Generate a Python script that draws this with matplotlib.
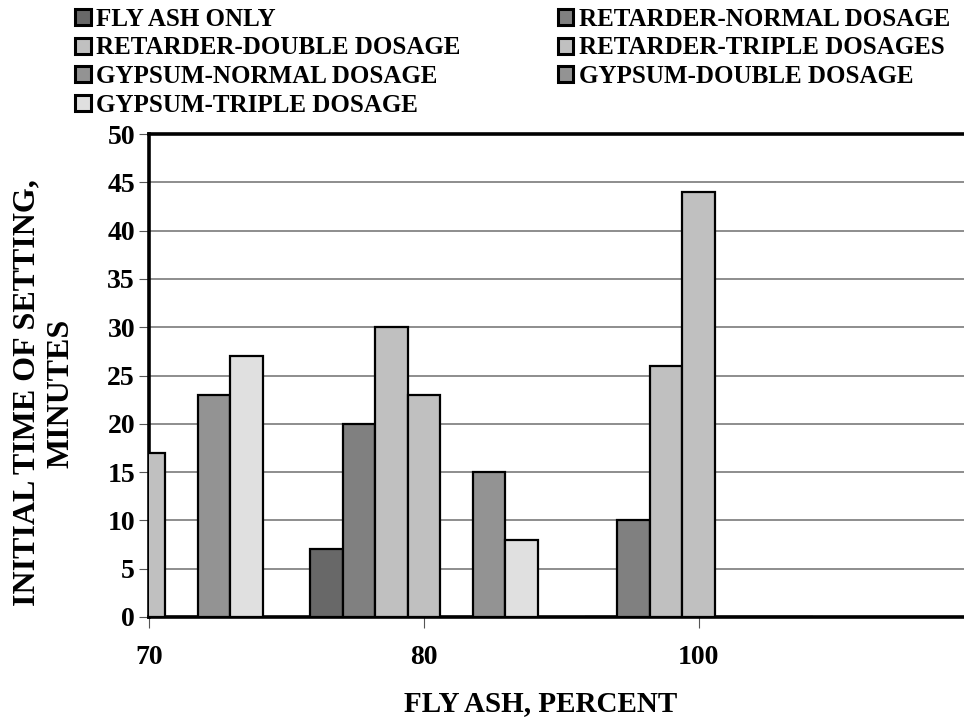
import numpy as np
import matplotlib
matplotlib.use("Agg")
import matplotlib.pyplot as plt

plt.rcParams['font.family'] = ['Liberation Serif', 'DejaVu Serif']
plt.rcParams['font.weight'] = 'bold'

# fly ash content groups
fly_ash = ['70', '80', '100']

series = [
    'FLY ASH ONLY',
    'RETARDER-NORMAL DOSAGE',
    'RETARDER-DOUBLE DOSAGE',
    'RETARDER-TRIPLE DOSAGES',
    'GYPSUM-NORMAL DOSAGE',
    'GYPSUM-DOUBLE DOSAGE',
    'GYPSUM-TRIPLE DOSAGE',
]

# initial setting time (minutes), one list per series, ordered as fly_ash
fly_ash_only = [0, 7, 0]
retarder_normal = [0, 20, 10]
retarder_double = [0, 30, 26]
retarder_triple = [17, 23, 44]
gypsum_normal = [0, 0, 0]
gypsum_double = [23, 15, 0]
gypsum_triple = [27, 8, 0]

values = [fly_ash_only, retarder_normal, retarder_double, retarder_triple,
          gypsum_normal, gypsum_double, gypsum_triple]
colors = ['#686868', '#808080', '#c0c0c0', '#c0c0c0',
          '#939393', '#939393', '#e0e0e0']

fig = plt.figure(figsize=(9.64, 7.25), dpi=100)
ax = fig.add_axes([149 / 964, 1 - 617 / 725, 815 / 964, (617 - 134) / 725])

x = np.arange(len(fly_ash))
w = 0.1184
handles = []
for i, (vals, c) in enumerate(zip(values, colors)):
    b = ax.bar(x + (i - 3) * w, vals, width=w, color=c, edgecolor='black',
               linewidth=1.6, label=series[i], zorder=3)
    handles.append(b)

ax.set_xlim(0, 2.965)
ax.set_ylim(0, 50)
ax.set_yticks(np.arange(0, 51, 5))
ax.set_xticks(x)
ax.set_xticklabels(fly_ash)
ax.yaxis.grid(True, color='#7a7a7a', linewidth=1.2, zorder=0)
ax.set_axisbelow(True)

for side in ['left', 'top', 'bottom']:
    ax.spines[side].set_linewidth(2.6)
ax.spines['right'].set_visible(False)
ax.tick_params(axis='y', length=7, width=0.8, color='#555555', pad=3, labelsize=20)
ax.tick_params(axis='x', length=8, width=0.8, color='#555555', pad=12, labelsize=20)

fig.text(541 / 964, 1 - 704 / 725, 'FLY ASH, PERCENT', ha='center', va='center',
         fontsize=21, fontweight='bold')
fig.text(44 / 964, 1 - 393 / 725, 'INITIAL TIME OF SETTING,\nMINUTES',
         rotation=90, ha='center', va='center', multialignment='center',
         fontsize=23, fontweight='bold', linespacing=1.2)

# legend laid out row by row in two columns
order = [0, 2, 4, 6, 1, 3, 5]
leg = fig.legend([handles[k] for k in order], [series[k] for k in order],
                 ncol=2, loc='upper left', bbox_to_anchor=(75 / 964, 1 - 8 / 725),
                 frameon=False, fontsize=18, borderpad=0, borderaxespad=0,
                 handlelength=0.62, handleheight=0.62, handletextpad=0.22,
                 labelspacing=0.22, columnspacing=3.9)
for t in leg.get_texts():
    t.set_fontweight('bold')
for h in leg.legend_handles:
    h.set_linewidth(2.2)

fig.savefig('out.png', dpi=100)
